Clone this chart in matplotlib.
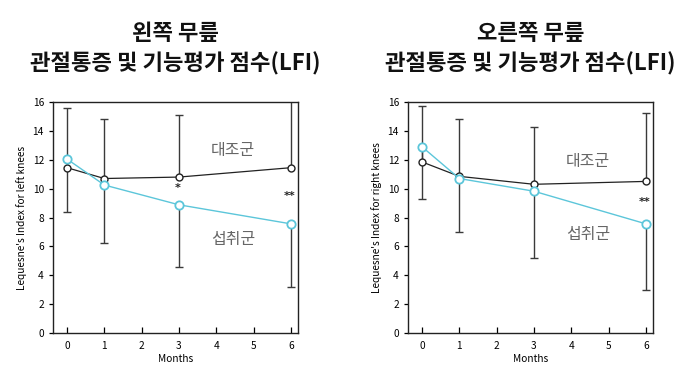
import matplotlib
matplotlib.use("Agg")
import matplotlib.pyplot as plt

plt.rcParams['font.family'] = ['Noto Sans CJK KR', 'DejaVu Sans']

months = [0, 1, 3, 6]
xticks = [0, 1, 2, 3, 4, 5, 6]
yticks = [0, 2, 4, 6, 8, 10, 12, 14, 16]

# control group mean and upper SD bound; treatment group mean and lower SD bound
left_control = [11.45, 10.7, 10.8, 11.45]
left_treat = [12.05, 10.25, 8.88, 7.56]
left_err_high = [15.6, 14.84, 15.1, 17.5]
left_err_low = [8.35, 6.2, 4.55, 3.17]

right_control = [11.85, 10.85, 10.3, 10.5]
right_treat = [12.9, 10.7, 9.82, 7.56]
right_err_high = [15.75, 14.84, 14.3, 15.25]
right_err_low = [9.25, 7.0, 5.2, 3.0]

titles = ["왼쪽 무릎\n관절통증 및 기능평가 점수(LFI)",
          "오른쪽 무릎\n관절통증 및 기능평가 점수(LFI)"]
ylabels = ["Lequesne's Index for left knees", "Lequesne's Index for right knees"]
xlabel = "Months"
control_label = "대조군"
treat_label = "섭취군"
sig_left = [(3, 10.05, "*"), (6, 9.5, "**")]
sig_right = [(6, 9.1, "**")]
label_pos_left = [(4.45, 12.65), (4.45, 6.5)]
label_pos_right = [(4.45, 11.9), (4.45, 6.8)]

W, H = 689, 378
fig = plt.figure(figsize=(W / 100, H / 100), dpi=100)

treat_color = "#5cc6da"
ctrl_color = "#222222"
err_color = "#3a3a3a"

panels = [
    (53, left_control, left_treat, left_err_high, left_err_low, sig_left, label_pos_left),
    (408, right_control, right_treat, right_err_high, right_err_low, sig_right, label_pos_right),
]

for i, (lx, ctrl, trt, eh, el, sigs, lpos) in enumerate(panels):
    ax = fig.add_axes([lx / W, 45 / H, 245 / W, 231 / H])
    # upper bars from control means, lower bars from treatment means
    ax.vlines(months, ctrl, eh, color=err_color, lw=1.0, zorder=1)
    ax.vlines(months, el, trt, color=err_color, lw=1.0, zorder=1)
    ax.plot(months, eh, ls='none', marker='_', ms=6, mew=1.0, color=err_color, zorder=1)
    ax.plot(months, el, ls='none', marker='_', ms=6, mew=1.0, color=err_color, zorder=1)
    ax.plot(months, ctrl, color=ctrl_color, lw=0.9, marker='o', ms=5,
            mfc='white', mec=ctrl_color, mew=1.0, zorder=3)
    ax.plot(months, trt, color=treat_color, lw=1.0, marker='o', ms=6,
            mfc='white', mec=treat_color, mew=1.3, zorder=4)
    for (sx, sy, s) in sigs:
        ax.text(sx - 0.04, sy, s, ha='center', va='center', fontsize=8,
                fontweight='bold', color='#222222', family='DejaVu Sans')
    ax.text(lpos[0][0], lpos[0][1], control_label, ha='center', va='center',
            fontsize=11.5, color='#666666')
    ax.text(lpos[1][0], lpos[1][1], treat_label, ha='center', va='center',
            fontsize=11.5, color='#666666')
    ax.set_xlim(-0.375, 6.19)
    ax.set_ylim(0, 16)
    ax.set_xticks(xticks)
    ax.set_yticks(yticks)
    ax.tick_params(axis='x', direction='in', length=4, labelsize=7.3, pad=6, width=0.9)
    ax.tick_params(axis='y', direction='out', length=3, labelsize=7.3, width=0.9)
    for sp in ax.spines.values():
        sp.set_linewidth(1.0)
        sp.set_color('#222222')
    ax.set_xlabel(xlabel, fontsize=7.3, labelpad=2)
    ax.set_ylabel(ylabels[i], fontsize=7.3, labelpad=4)
    cx = (lx + 122.5) / W
    fig.text(cx, 1 - 49 / H, titles[i], ha='center', va='center', fontsize=16,
             fontweight='bold', linespacing=1.4, color='#111111')

fig.savefig("out.png", dpi=100)
